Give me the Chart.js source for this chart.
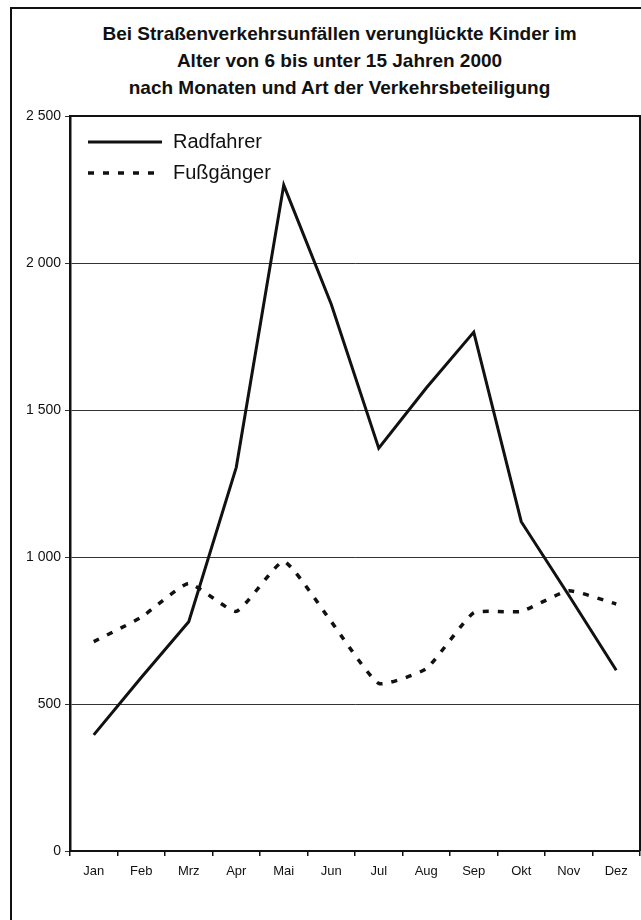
<!DOCTYPE html>
<html>
<head>
<meta charset="utf-8">
<script src="https://cdn.jsdelivr.net/npm/chart.js@4"></script>
<style>
  html, body { margin: 0; padding: 0; background: #fff; overflow: hidden; }
  #frame { position: absolute; left: 10px; top: 7px; width: 800px; height: 1000px; border: 2px solid #111; }
  #title { position: absolute; left: 0; top: 20px; width: 679px; text-align: center;
           font: bold 19px 'Liberation Sans', Arial, sans-serif; line-height: 27px; color: #111; }
  #wrap { position: absolute; left: 0; top: 0; width: 641px; height: 920px; }
</style>
</head>
<body>
<div id="frame"></div>
<div id="title">Bei Straßenverkehrsunfällen verunglückte Kinder im<br>Alter von 6 bis unter 15 Jahren 2000<br>nach Monaten und Art der Verkehrsbeteiligung</div>
<div id="wrap"><canvas id="myChart" width="641" height="920"></canvas></div>
<script>
var months = ['Jan', 'Feb', 'Mrz', 'Apr', 'Mai', 'Jun', 'Jul', 'Aug', 'Sep', 'Okt', 'Nov', 'Dez'];
var radfahrer = [395, 590, 780, 1305, 2265, 1860, 1370, 1575, 1765, 1120, 870, 615];
var fussgaenger = [712, 795, 910, 815, 985, 780, 570, 620, 810, 815, 885, 840];
var yTicks = [0, 500, 1000, 1500, 2000, 2500];

var font = "'Liberation Sans', Arial, sans-serif";

// legend drawn inside the plot, top left
var innerLegend = {
    id: 'innerLegend',
    afterDatasetsDraw: function(chart) {
        var c = chart.ctx;
        var a = chart.chartArea;
        c.save();
        chart.data.datasets.forEach(function(ds, i) {
            var y = a.top + 26 + i * 31;
            c.strokeStyle = ds.borderColor;
            c.lineWidth = ds.borderWidth;
            c.setLineDash(ds.borderDash || []);
            c.beginPath();
            c.moveTo(a.left + 18, y);
            c.lineTo(a.left + 92, y);
            c.stroke();
            c.setLineDash([]);
            c.fillStyle = '#111';
            c.font = '20px ' + font;
            c.textBaseline = 'middle';
            c.fillText(ds.label, a.left + 103, y);
        });
        c.restore();
    },
    afterDraw: function(chart) {
        var c = chart.ctx;
        var a = chart.chartArea;
        c.save();
        c.strokeStyle = '#111';
        c.lineWidth = 2;
        c.beginPath();
        c.moveTo(a.left, a.top);
        c.lineTo(a.right, a.top);
        c.lineTo(a.right, a.bottom);
        c.stroke();
        c.restore();
    }
};

var ctx = document.getElementById('myChart').getContext('2d');
var myChart = new Chart(ctx, {
    type: 'line',
    data: {
        labels: months,
        datasets: [{
            label: 'Radfahrer',
            data: radfahrer,
            borderColor: '#111',
            borderWidth: 3,
            pointRadius: 0,
            tension: 0
        },
        {
            label: 'Fußgänger',
            data: fussgaenger,
            borderColor: '#111',
            borderWidth: 3.5,
            borderDash: [6, 9],
            pointRadius: 0,
            tension: 0.15
        }]
    },
    options: {
        responsive: false,
        animation: false,
        layout: { padding: { left: 0, right: 1, top: 116, bottom: 0 } },
        plugins: {
            legend: { display: false },
            tooltip: { enabled: false }
        },
        scales: {
            x: {
                offset: true,
                grid: { offset: true, drawOnChartArea: false, drawTicks: true, tickLength: 5, color: '#111', lineWidth: 1.5 },
                border: { color: '#111', width: 2 },
                ticks: { color: '#111', padding: 8, font: { family: font, size: 13 }, maxRotation: 0 },
                afterFit: function(s) { s.height = 69; }
            },
            y: {
                min: 0,
                max: 2500,
                afterBuildTicks: function(s) { s.ticks = yTicks.map(function(v) { return { value: v }; }); },
                grid: { color: '#333', lineWidth: 1, tickLength: 5 },
                border: { color: '#111', width: 2.5 },
                ticks: {
                    color: '#111',
                    padding: 4,
                    font: { family: font, size: 14 },
                    callback: function(v) { return String(v).replace(/\B(?=(\d{3})+(?!\d))/g, ' '); }
                },
                afterFit: function(s) { s.width = 70; }
            }
        }
    },
    plugins: [innerLegend]
});
</script>
</body>
</html>
